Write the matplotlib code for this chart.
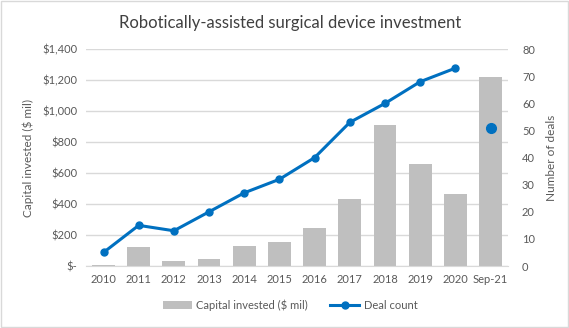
import matplotlib.pyplot as plt
from matplotlib.patches import Rectangle
from matplotlib.ticker import FuncFormatter

# Data
categories = ['2010', '2011', '2012', '2013', '2014', '2015', '2016', '2017',
              '2018', '2019', '2020', 'Sep-21']
capital = [7, 123, 32, 45, 129, 155, 245, 433, 911, 659, 465, 1221]
deals = [5, 15, 13, 20, 27, 32, 40, 53, 60, 68, 73]
deals_ytd = 51

plt.rcParams['font.family'] = ['Lato', 'DejaVu Sans']
grey_txt = '#595959'

fig = plt.figure(figsize=(5.69, 3.28), dpi=100)
fig.patches.append(Rectangle((0.001, 0.002), 0.997, 0.995, transform=fig.transFigure,
                             fill=False, edgecolor='#d9d9d9', linewidth=1))

ax = fig.add_axes([0.151, 0.189, 0.742, 0.661])
x = list(range(len(categories)))
ax.bar(x, capital, width=0.65, color='#bfbfbf', label='Capital invested ($ mil)', zorder=2)
ax.set_ylim(0, 1400)
ax.set_yticks(range(0, 1401, 200))
ax.yaxis.set_major_formatter(FuncFormatter(lambda v, p: '$-' if v == 0 else f'${v:,.0f}'))
ax.set_xlim(-0.5, len(categories) - 0.5)
ax.set_xticks(x)
ax.set_xticklabels(categories)
ax.grid(axis='y', color='#d9d9d9', linewidth=1, zorder=0)
ax.set_axisbelow(True)
for s in ['top', 'right', 'left']:
    ax.spines[s].set_visible(False)
ax.spines['bottom'].set_color('#d9d9d9')
ax.tick_params(length=0, colors=grey_txt, labelsize=8, pad=6)
ax.set_ylabel('Capital invested ($ mil)', color=grey_txt, fontsize=8.5, labelpad=6)

ax2 = ax.twinx()
ax2.plot(x[:len(deals)], deals, color='#0070c0', linewidth=2.2, marker='o',
         markersize=5, label='Deal count', zorder=3)
ax2.plot([x[-1]], [deals_ytd], color='#0070c0', marker='o', markersize=7, linestyle='none')
ax2.set_ylim(0, 80)
ax2.set_yticks(range(0, 81, 10))
for s in ax2.spines.values():
    s.set_visible(False)
ax2.tick_params(length=0, colors=grey_txt, labelsize=8, pad=10)
ax2.set_ylabel('Number of deals', color=grey_txt, fontsize=8.5, labelpad=8)

fig.suptitle('Robotically-assisted surgical device investment', x=0.51, y=0.955,
             fontsize=12, color='#404040')

h1, l1 = ax.get_legend_handles_labels()
h2, l2 = ax2.get_legend_handles_labels()
fig.legend(h1 + h2, l1 + l2, loc='center', bbox_to_anchor=(0.51, 0.07), ncol=2,
           frameon=False, fontsize=8, labelcolor=grey_txt, handlelength=2.6,
           columnspacing=2.0, handletextpad=0.4)

fig.savefig('out.png', dpi=100)
